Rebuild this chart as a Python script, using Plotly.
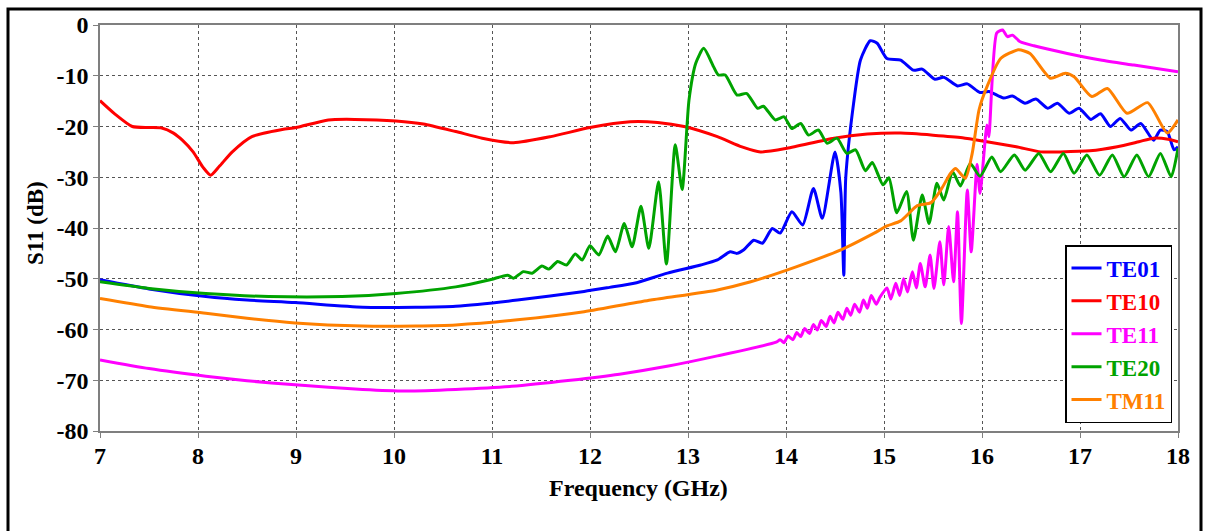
import plotly.graph_objects as go

# ---------------- data (GHz, dB) ----------------
te10_f = [7.0, 7.15, 7.33, 7.5, 7.63, 7.75, 7.84, 7.95, 8.05, 8.13, 8.22, 8.35, 8.55, 8.86, 9.0,
          9.33, 9.6, 10.02, 10.3, 10.63, 10.9, 11.22, 11.6, 12.0, 12.41, 12.69, 12.96, 13.3, 13.55,
          13.74, 14.01, 14.49, 14.83, 15.17, 15.5, 15.8, 16.05, 16.35, 16.6, 16.8, 17.1, 17.38,
          17.6, 17.75, 17.9, 18.0]
te10_db = [-14.9, -17.5, -20.0, -20.2, -20.3, -21.3, -22.7, -25.0, -28.0, -29.6, -27.8, -25.0, -22.0,
           -20.6, -20.2, -18.7, -18.6, -18.9, -19.5, -21.0, -22.3, -23.2, -22.0, -20.2, -19.05, -19.2,
           -20.0, -22.0, -24.0, -25.0, -24.3, -22.3, -21.5, -21.3, -21.7, -22.2, -23.0, -24.0, -25.0,
           -25.0, -24.8, -24.0, -23.0, -22.3, -22.5, -23.0]

te01_f = [7.0, 7.5, 8.08, 8.5, 8.99, 9.68, 10.22, 10.63, 11.26, 11.94, 12.2, 12.45, 12.79, 13.13,
          13.3, 13.43, 13.5, 13.57, 13.67, 13.76, 13.86, 13.94, 14.06, 14.17, 14.28, 14.37, 14.5,
          14.56, 14.59, 14.61, 14.69, 14.76, 14.86, 14.93, 15.03, 15.17, 15.3, 15.39, 15.52, 15.61,
          15.75, 15.85, 15.98, 16.07, 16.22, 16.31, 16.44, 16.55, 16.67, 16.77, 16.89, 16.99, 17.11,
          17.21, 17.31, 17.41, 17.52, 17.62, 17.75, 17.82, 17.89, 17.96, 18.0]
te01_db = [-50.2, -52.0, -53.5, -54.2, -54.7, -55.6, -55.6, -55.4, -54.2, -52.5, -51.7, -50.9, -48.9,
           -47.3, -46.3, -44.7, -45.0, -44.3, -42.4, -43.0, -40.1, -41.0, -36.8, -39.4, -32.2, -38.1,
           -25.0, -33.0, -49.3, -30.0, -15.4, -6.9, -3.1, -3.6, -6.6, -6.9, -8.9, -8.7, -10.7, -10.3,
           -12.0, -11.6, -13.3, -13.1, -14.4, -14.0, -15.4, -14.6, -16.4, -15.4, -17.4, -16.4, -18.6,
           -17.5, -20.0, -18.4, -20.7, -19.4, -22.7, -20.7, -21.0, -24.6, -24.0]

te11_f = [7.0, 7.5, 8.08, 8.5, 8.99, 9.68, 10.12, 10.63, 11.2, 11.8, 12.3, 12.8, 13.3, 13.9,
          13.94, 13.98, 14.02, 14.07, 14.11, 14.15, 14.19, 14.24, 14.28, 14.32, 14.36, 14.41, 14.45,
          14.49, 14.53, 14.58, 14.62, 14.66, 14.70, 14.75, 14.79, 14.83, 14.87, 14.92, 14.96, 15.03,
          15.07, 15.12, 15.16, 15.2, 15.24, 15.29, 15.33, 15.37, 15.42, 15.47, 15.51, 15.57, 15.61,
          15.66, 15.71, 15.75, 15.79, 15.85, 15.89, 15.95, 15.98, 16.05, 16.07, 16.15, 16.21, 16.26,
          16.31, 16.39, 16.53, 16.87, 17.21, 17.55, 18.0]
te11_db = [-66.0, -67.7, -69.2, -70.1, -70.9, -71.8, -72.1, -71.8, -71.2, -70.0, -68.8, -67.2, -65.2,
           -62.5, -62.0, -62.6, -61.3, -62.0, -60.6, -61.4, -59.8, -60.8, -59.0, -60.1, -58.2, -59.4,
           -57.4, -58.7, -56.6, -58.0, -55.8, -57.2, -55.0, -56.6, -54.2, -55.8, -53.3, -55.0, -53.6,
           -51.8, -54.0, -50.9, -53.3, -50.0, -52.6, -48.6, -51.8, -47.0, -51.6, -45.3, -51.9, -42.7,
           -51.2, -39.7, -50.6, -36.8, -58.8, -32.5, -44.7, -27.5, -33.2, -19.7, -22.0, -1.6, -1.0,
           -2.3, -2.0, -3.3, -4.1, -5.6, -6.9, -7.9, -9.2]

te20_f = [7.0, 7.5, 8.08, 8.72, 9.47, 10.02, 10.63, 10.98, 11.16, 11.22, 11.32, 11.41, 11.51, 11.58,
          11.67, 11.76, 11.85, 11.92, 12.0, 12.09, 12.18, 12.26, 12.35, 12.43, 12.52, 12.6, 12.7,
          12.78, 12.87, 12.94, 13.01, 13.08, 13.16, 13.26, 13.31, 13.38, 13.5, 13.6, 13.71, 13.77,
          13.89, 13.98, 14.06, 14.15, 14.23, 14.33, 14.42, 14.52, 14.62, 14.71, 14.81, 14.88, 14.99,
          15.05, 15.13, 15.23, 15.3, 15.39, 15.46, 15.54, 15.61, 15.7, 15.78, 15.88, 15.98, 16.1,
          16.19, 16.33, 16.44, 16.58, 16.7, 16.83, 16.94, 17.07, 17.2, 17.33, 17.45, 17.58, 17.7,
          17.82, 17.93, 18.0]
te20_db = [-50.6, -51.9, -52.9, -53.5, -53.5, -52.9, -51.6, -50.2, -49.3, -49.9, -48.6, -48.9, -47.5,
           -48.1, -46.6, -47.3, -45.1, -46.3, -43.5, -45.3, -41.6, -44.7, -39.1, -43.7, -35.7, -44.0,
           -30.9, -47.1, -23.6, -32.4, -14.8, -7.5, -4.6, -8.2, -9.85, -9.85, -13.8, -13.5, -16.4,
           -16.0, -18.7, -18.1, -20.4, -19.4, -21.7, -20.7, -23.3, -22.3, -25.3, -24.6, -28.7, -27.1,
           -31.5, -30.1, -37.0, -32.8, -42.4, -33.5, -39.1, -31.2, -34.5, -28.9, -31.7, -27.3, -29.8,
           -26.0, -28.9, -25.6, -28.6, -25.3, -28.9, -25.3, -29.2, -25.6, -29.6, -25.6, -29.9, -25.6,
           -29.9, -25.3, -29.9, -24.3]

tm11_f = [7.0, 7.5, 8.08, 8.5, 8.99, 9.68, 10.22, 10.63, 11.26, 11.94, 12.62, 13.3, 13.64, 14.11,
          14.56, 14.9, 15.03, 15.17, 15.34, 15.48, 15.58, 15.68, 15.73, 15.83, 15.9, 15.97, 16.05,
          16.19, 16.37, 16.49, 16.7, 16.85, 16.94, 17.12, 17.28, 17.48, 17.69, 17.89, 18.0]
tm11_db = [-53.9, -55.5, -56.8, -57.8, -58.7, -59.3, -59.3, -59.1, -58.1, -56.5, -54.2, -52.2, -50.6,
           -47.6, -44.3, -41.0, -39.6, -38.6, -35.6, -35.0, -32.5, -29.2, -28.3, -30.2, -25.3, -16.7,
           -12.2, -6.6, -4.9, -5.6, -10.5, -9.5, -10.2, -14.1, -12.5, -17.4, -15.3, -21.3, -18.7]

series_names = ["TE01", "TE10", "TE11", "TE20", "TM11"]
series_colors = ["#0000FF", "#FF0000", "#FF00FF", "#00A300", "#FF8000"]
series_f = [te01_f, te10_f, te11_f, te20_f, tm11_f]
series_db = [te01_db, te10_db, te11_db, te20_db, tm11_db]

x_ticks = [7, 8, 9, 10, 11, 12, 13, 14, 15, 16, 17, 18]
y_ticks = [0, -10, -20, -30, -40, -50, -60, -70, -80]
y_ticktext = ["0", "-10", "-20", "-30", "-40", "-50", "-60", "-70", "-80"]

FONT = "Liberation Serif"

fig = go.Figure()
for name, color, fx, fy in zip(series_names, series_colors, series_f, series_db):
    fig.add_trace(go.Scatter(
        x=fx, y=fy, mode="lines", name=f'<span style="color:{color}">{name}</span>',
        legendgroup=name,
        line=dict(color=color, width=3, shape="spline", smoothing=0.6),
    ))

axis_common = dict(
    showline=True, linecolor="#7f7f7f", linewidth=1.5, mirror=True,
    showgrid=True, gridcolor="#555555", gridwidth=1, griddash="dot",
    ticks="outside", ticklen=5, tickcolor="#7f7f7f", tickwidth=1,
    zeroline=False,
    tickfont=dict(family=FONT, size=24, color="black", weight="bold"),
)

fig.update_xaxes(range=[7, 18], tickvals=x_ticks, ticklabelstandoff=-3, **axis_common)
fig.update_yaxes(range=[-80, 0], tickvals=y_ticks, ticktext=y_ticktext, **axis_common)

W0, W1, H0, H1 = 100, 1178, 25, 431
def px(x):
    return (x - W0) / (W1 - W0)
def py(y):
    return (H1 - y) / (H1 - H0)

fig.update_layout(
    width=1208, height=531,
    margin=dict(l=W0, r=1208 - W1, t=H0, b=531 - H1, pad=0),
    paper_bgcolor="white", plot_bgcolor="white",
    font=dict(family=FONT, color="black"),
    showlegend=True,
    legend=dict(
        x=px(1172), y=py(423), xanchor="right", yanchor="bottom",
        bgcolor="white", bordercolor="black", borderwidth=1.5,
        font=dict(family=FONT, size=23, weight="bold"),
        tracegroupgap=0,
    ),
    annotations=[
        dict(text="<b>Frequency (GHz)</b>", x=px(638), y=py(488), xref="paper", yref="paper",
             xanchor="center", yanchor="middle", showarrow=False,
             font=dict(family=FONT, size=24, color="black")),
        dict(text="<b>S11 (dB)</b>", x=px(36), y=py(223), xref="paper", yref="paper",
             xanchor="center", yanchor="middle", showarrow=False, textangle=-90,
             font=dict(family=FONT, size=23, color="black")),
    ],
    shapes=[
        dict(type="rect", xref="paper", yref="paper", x0=px(8), x1=px(1201), y0=py(560), y1=py(9),
             line=dict(color="black", width=3), fillcolor="rgba(0,0,0,0)", layer="above"),
    ],
)

fig.write_html("out.html")
